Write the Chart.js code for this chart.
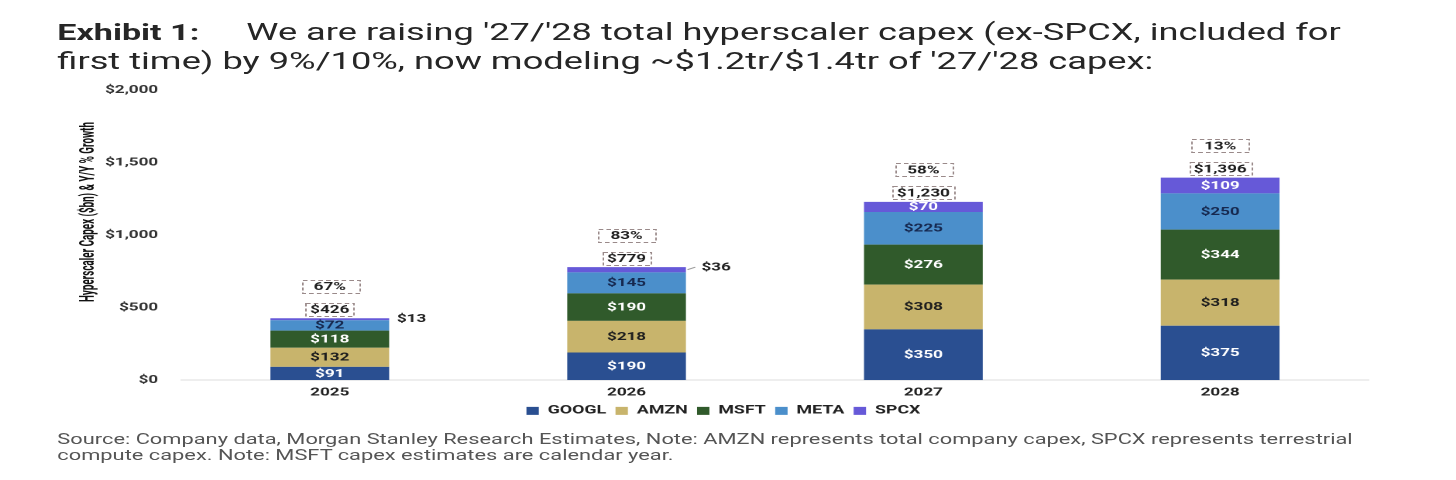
<!DOCTYPE html>
<html>
<head>
<meta charset="utf-8">
<script src="https://cdn.jsdelivr.net/npm/chart.js@4.4.1/dist/chart.umd.min.js"></script>
<style>
  body { margin: 0; background: #fff; overflow: hidden; }
  /* the source picture is stretched sideways, so draw narrow and stretch */
  #wrap { position: absolute; left: 0; top: 0; width: 940px; height: 480px;
          transform: scaleX(1.549); transform-origin: 0 0; }
  #title { position: absolute; left: 37px; top: 18px; font: 23.4px Roboto, sans-serif;
           line-height: 29px; color: #262626; white-space: nowrap; }
  #title b { display: inline-block; width: 122px; font-weight: 700; font-size: 22px; }
  #note { position: absolute; left: 37px; top: 431px; font: 14.1px Roboto, sans-serif;
          line-height: 16px; color: #555; white-space: nowrap; }
  #chartBox { position: absolute; left: 0; top: 0; width: 940px; height: 480px; }
</style>
</head>
<body>
<div id="wrap">
  <div id="chartBox"><canvas id="capexChart"></canvas></div>
  <div id="title"><b>Exhibit 1:</b>We are raising '27/'28 total hyperscaler capex (ex-SPCX, included for<br>first time) by 9%/10%, now modeling ~$1.2tr/$1.4tr of '27/'28 capex:</div>
  <div id="note">Source: Company data, Morgan Stanley Research Estimates, Note: AMZN represents total company capex, SPCX represents terrestrial<br>compute capex. Note: MSFT capex estimates are calendar year.</div>
</div>
<script>
const years = ["2025", "2026", "2027", "2028"];
const googl = [91, 190, 350, 375];
const amzn = [132, 218, 308, 318];
const msft = [118, 190, 276, 344];
const meta = [72, 145, 225, 250];
const spcx = [13, 36, 70, 109];
const totals = [426, 779, 1230, 1396];
const growth = [67, 83, 58, 13];
const yTicks = [0, 500, 1000, 1500, 2000];

const FONT = "Roboto, sans-serif";
const money = (v) => "$" + v.toLocaleString("en-US");

// label colour per series (dark text on the light fills)
const labelColors = ["#ffffff", "#1e1e1e", "#ffffff", "#16284f", "#ffffff"];

const barLabels = {
  id: "barLabels",
  afterDatasetsDraw(chart) {
    const ctx = chart.ctx;
    const yScale = chart.scales.y;
    ctx.save();
    ctx.font = "bold 11px " + FONT;
    ctx.textBaseline = "middle";

    chart.data.datasets.forEach((ds, i) => {
      const m = chart.getDatasetMeta(i);
      m.data.forEach((el, j) => {
        const h = Math.abs(el.base - el.y);
        const cy = (el.y + el.base) / 2;
        const label = money(ds.data[j]);
        if (h >= 9) {
          ctx.fillStyle = labelColors[i];
          ctx.textAlign = "center";
          ctx.fillText(label, el.x, cy + 0.5);
        } else {
          // too thin: put it on the right of the bar
          const right = el.x + el.width / 2;
          ctx.fillStyle = "#222";
          ctx.textAlign = "left";
          if (h >= 4) {
            ctx.strokeStyle = "#9a9a9a";
            ctx.lineWidth = 1;
            ctx.beginPath();
            ctx.moveTo(right + 1, cy);
            ctx.lineTo(right + 6, cy - 2.5);
            ctx.stroke();
            ctx.fillText(label, right + 10, cy - 2);
          } else {
            ctx.fillText(label, right + 5, cy);
          }
        }
      });
    });

    // dashed boxes with totals and growth
    const drawBox = (text, x, y, padX) => {
      const w = ctx.measureText(text).width + padX * 2;
      const bh = 13;
      ctx.strokeStyle = "#9a8a8a";
      ctx.lineWidth = 1;
      ctx.setLineDash([3, 2]);
      ctx.strokeRect(Math.round(x - w / 2) + 0.5, Math.round(y - bh / 2) + 0.5, Math.round(w), bh);
      ctx.setLineDash([]);
      ctx.fillStyle = "#1e1e1e";
      ctx.textAlign = "center";
      ctx.fillText(text, x, y + 1);
    };
    const first = chart.getDatasetMeta(0);
    totals.forEach((t, j) => {
      const x = first.data[j].x;
      const top = yScale.getPixelForValue(t);
      drawBox(money(t), x, top - 9, 3);
      drawBox(growth[j] + "%", x, top - 32, 8);
    });

    // rotated axis title
    const title = "Hyperscaler Capex ($bn) & Y/Y % Growth";
    ctx.translate(57, 212);
    ctx.rotate(-Math.PI / 2);
    ctx.font = "bold 13px " + FONT;
    const tw = ctx.measureText(title).width;
    ctx.scale(180 / tw, 1);
    ctx.fillStyle = "#111";
    ctx.textAlign = "center";
    ctx.fillText(title, 0, 0);
    ctx.restore();
  },
};

const ctx = document.getElementById("capexChart").getContext("2d");
new Chart(ctx, {
  type: "bar",
  data: {
    labels: years,
    datasets: [
      { label: "GOOGL", data: googl, backgroundColor: "#2a4f91" },
      { label: "AMZN", data: amzn, backgroundColor: "#c8b46c" },
      { label: "MSFT", data: msft, backgroundColor: "#305a2b" },
      { label: "META", data: meta, backgroundColor: "#4b8fcb" },
      { label: "SPCX", data: spcx, backgroundColor: "#6659d8" },
    ],
  },
  options: {
    responsive: true,
    maintainAspectRatio: false,
    animation: false,
    devicePixelRatio: 2,
    layout: { padding: { top: 90, right: 56.5, bottom: 53.4, left: 50.5 } },
    datasets: { bar: { barPercentage: 0.4, categoryPercentage: 1.0 } },
    scales: {
      x: {
        stacked: true,
        grid: { display: false, drawTicks: false },
        border: { display: true, color: "#dcdcdc", width: 1 },
        ticks: { color: "#222", font: { family: FONT, size: 11, weight: "bold" }, padding: 6 },
        afterFit: (s) => { s.height = 19; },
      },
      y: {
        stacked: true,
        min: yTicks[0],
        max: yTicks[yTicks.length - 1],
        grid: { display: false, drawTicks: false },
        border: { display: false },
        afterBuildTicks: (s) => { s.ticks = yTicks.map((v) => ({ value: v })); },
        ticks: {
          color: "#333",
          padding: 15,
          font: { family: FONT, size: 11, weight: "bold" },
          callback: (v) => money(v),
        },
        afterFit: (s) => { s.width = 66.6; },
      },
    },
    plugins: {
      legend: {
        position: "bottom",
        labels: {
          boxWidth: 8,
          boxHeight: 8,
          padding: 6,
          color: "#222",
          font: { family: FONT, size: 11.5, weight: "bold" },
        },
      },
      tooltip: { enabled: false },
    },
  },
  plugins: [barLabels],
});
</script>
</body>
</html>
